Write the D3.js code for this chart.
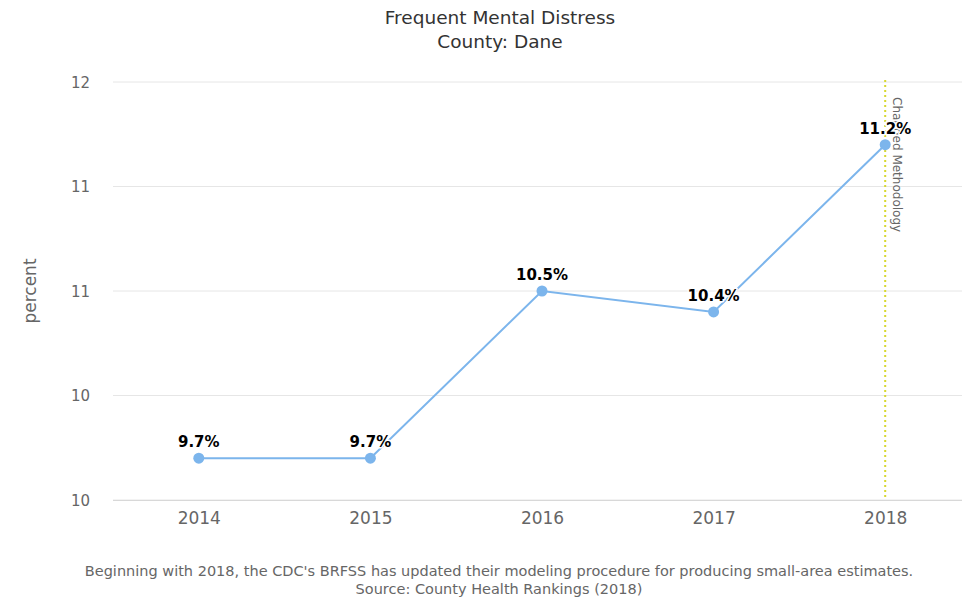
<!DOCTYPE html>
<html>
<head>
<meta charset="utf-8">
<script src="https://cdn.jsdelivr.net/npm/d3@7"></script>
<style>
  body { margin: 0; background: #fff; }
  svg { display: block; }
  text { font-family: "DejaVu Sans", "Open Sans", sans-serif; }
</style>
</head>
<body>
<svg id="chart" width="970" height="599"></svg>
<script>
const years = ["2014", "2015", "2016", "2017", "2018"];
const values = [9.7, 9.7, 10.5, 10.4, 11.2];
const valueLabels = ["9.7%", "9.7%", "10.5%", "10.4%", "11.2%"];
const yTicks = [9.5, 10, 10.5, 11, 11.5];
const yTickLabels = ["10", "10", "11", "11", "12"];
const titleLines = ["Frequent Mental Distress", "County: Dane"];
const footerLines = [
  "Beginning with 2018, the CDC's BRFSS has updated their modeling procedure for producing small-area estimates.",
  "Source: County Health Rankings (2018)"
];
const plotLineYear = "2018";
const plotLineLabel = "Changed Methodology";

const svg = d3.select("#chart");
const W = 970, H = 599;
const m = { left: 113, right: 971, top: 82, bottom: 500 };

const x = d3.scalePoint().domain(years).range([m.left, m.right]).padding(0.5);
const y = d3.scaleLinear().domain([9.5, 11.5]).range([m.bottom, m.top]);

// Title
svg.append("g").selectAll("text").data(titleLines).join("text")
  .attr("x", W / 2 + 15).attr("y", (d, i) => 24 + i * 24)
  .attr("text-anchor", "middle")
  .attr("font-size", 18.5).attr("fill", "#333")
  .text(d => d);

// Gridlines
svg.append("g").selectAll("line").data(yTicks).join("line")
  .attr("x1", m.left).attr("x2", 962)
  .attr("y1", d => y(d)).attr("y2", d => y(d))
  .attr("stroke", "#e6e6e6").attr("stroke-width", 1);

// Y axis
const yAxis = d3.axisLeft(y).tickValues(yTicks).tickSize(0).tickPadding(0)
  .tickFormat((d, i) => yTickLabels[i]);
const gy = svg.append("g").attr("transform", `translate(90,0)`).call(yAxis);
gy.select(".domain").remove();
gy.selectAll("text").attr("font-size", 15).attr("fill", "#666")
  .style("font-family", "'DejaVu Sans', sans-serif").attr("dy", "0.35em");

// Y axis title
svg.append("text")
  .attr("transform", `translate(36,${(m.top + m.bottom) / 2}) rotate(-90)`)
  .attr("text-anchor", "middle").attr("font-size", 17).attr("fill", "#666")
  .text("percent");

// X axis
const xAxis = d3.axisBottom(x).tickSize(0).tickPadding(0);
const gx = svg.append("g").attr("transform", `translate(0,${m.bottom})`).call(xAxis);
gx.select(".domain").remove();
gx.selectAll("text").attr("font-size", 17).attr("fill", "#666")
  .attr("dy", "1.42em").style("font-family", "'DejaVu Sans', sans-serif");
svg.append("line").attr("x1", m.left).attr("x2", 962)
  .attr("y1", m.bottom + 0.5).attr("y2", m.bottom + 0.5).attr("stroke", "#d8d8d8");

// Plot line
const px = x(plotLineYear);
svg.append("line").attr("x1", px).attr("x2", px)
  .attr("y1", m.top - 2).attr("y2", m.bottom)
  .attr("stroke", "#d8d830").attr("stroke-width", 2).attr("stroke-dasharray", "2,3");
svg.append("text")
  .attr("transform", `translate(${px + 8},${m.top + 15}) rotate(90)`)
  .attr("font-size", 12).attr("fill", "#666")
  .text(plotLineLabel);

// Series line
const data = years.map((yr, i) => ({ yr, v: values[i], lab: valueLabels[i] }));
svg.append("path").datum(data)
  .attr("fill", "none").attr("stroke", "#7cb5ec").attr("stroke-width", 2)
  .attr("d", d3.line().x(d => x(d.yr)).y(d => y(d.v)));

svg.append("g").selectAll("circle").data(data).join("circle")
  .attr("cx", d => x(d.yr)).attr("cy", d => y(d.v)).attr("r", 5.5)
  .attr("fill", "#7cb5ec");

// Data labels
svg.append("g").selectAll("text").data(data).join("text")
  .attr("x", d => x(d.yr)).attr("y", d => y(d.v) - 11)
  .attr("text-anchor", "middle").attr("font-size", 15).attr("font-weight", "bold")
  .attr("fill", "#000").attr("stroke", "#fff").attr("stroke-width", 3)
  .attr("paint-order", "stroke").attr("stroke-linejoin", "round")
  .text(d => d.lab);

// Footer
svg.append("g").selectAll("text").data(footerLines).join("text")
  .attr("x", W / 2 + 14).attr("y", (d, i) => 576 + i * 18)
  .attr("text-anchor", "middle").attr("font-size", 14.5).attr("fill", "#666")
  .text(d => d);
</script>
</body>
</html>
